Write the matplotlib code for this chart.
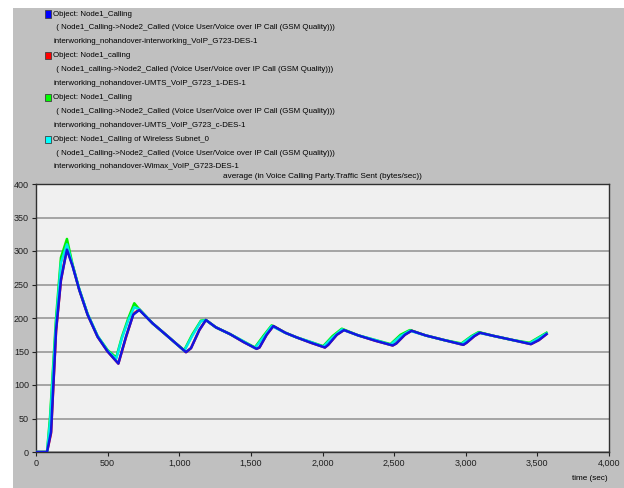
"""Voice calling party traffic sent, four scenarios (OPNET style)."""

import matplotlib

matplotlib.use("Agg", force=True)
import matplotlib.pyplot as plt
from matplotlib.patches import Rectangle
from matplotlib.ticker import FuncFormatter

# time (sec) and average traffic sent (bytes/sec)
time_blue = [0, 77, 105, 140, 174, 216, 256, 302, 360, 430,
             500, 575, 628, 679, 721, 814, 907, 977, 1047, 1082,
             1140, 1186, 1256, 1354, 1450, 1540, 1560, 1610, 1657, 1740,
             1820, 1920, 2017, 2040, 2100, 2150, 2250, 2370, 2490, 2515,
             2575, 2622, 2720, 2850, 2983, 3005, 3060, 3099, 3200, 3330,
             3455, 3510, 3564]
blue = [0, 0, 30, 182, 257, 302, 277, 242, 205, 172,
        150, 132, 172, 205, 212, 192, 175, 162, 149, 155,
        182, 197, 186, 176, 164, 154, 156, 175, 188, 178,
        171, 163, 156, 160, 175, 182, 174, 166, 159, 162,
        175, 181, 174, 167, 160, 163, 173, 178, 173, 167,
        161, 167, 176]
red = [0, 0, 28, 180, 256, 304, 278, 242, 205, 172,
       150, 132, 171, 206, 213, 192, 175, 162, 149, 155,
       182, 197, 186, 176, 164, 154, 156, 175, 188, 178,
       171, 163, 156, 160, 175, 182, 174, 166, 159, 162,
       175, 181, 174, 167, 160, 163, 173, 178, 173, 167,
       161, 167, 176]

time_green = [0, 77, 98, 140, 174, 216, 256, 302, 360, 430,
              500, 560, 600, 645, 686, 721, 814, 907, 977, 1035,
              1090, 1151, 1186, 1256, 1354, 1450, 1528, 1590, 1645, 1740,
              1820, 1920, 2005, 2070, 2135, 2250, 2370, 2475, 2545, 2610,
              2720, 2850, 2970, 3040, 3090, 3200, 3330, 3445, 3564]
green = [0, 0, 52, 200, 290, 318, 279, 243, 206, 173,
         152, 141, 172, 200, 222, 213, 192, 175, 162, 152,
         175, 196, 197, 186, 176, 165, 156, 174, 189, 178,
         171, 164, 158, 173, 184, 174, 167, 161, 175, 182,
         174, 167, 162, 173, 179, 173, 167, 163, 178]
cyan = [0, 0, 45, 192, 282, 310, 278, 243, 206, 173,
        151, 139, 170, 197, 216, 213, 192, 175, 162, 151,
        173, 195, 197, 186, 176, 165, 155, 172, 188, 178,
        171, 164, 157, 171, 183, 174, 167, 160, 173, 181,
        174, 167, 161, 172, 178, 173, 167, 162, 177]

legend_entries = [
    ("#0000ff", "Object: Node1_Calling",
     " ( Node1_Calling->Node2_Called (Voice User/Voice over IP Call (GSM Quality)))",
     "interworking_nohandover-interworking_VoIP_G723-DES-1"),
    ("#ff0000", "Object: Node1_calling",
     " ( Node1_calling->Node2_Called (Voice User/Voice over IP Call (GSM Quality)))",
     "interworking_nohandover-UMTS_VoIP_G723_1-DES-1"),
    ("#00ff00", "Object: Node1_Calling",
     " ( Node1_Calling->Node2_Called (Voice User/Voice over IP Call (GSM Quality)))",
     "interworking_nohandover-UMTS_VoIP_G723_c-DES-1"),
    ("#00ffff", "Object: Node1_Calling of Wireless Subnet_0",
     " ( Node1_Calling->Node2_Called (Voice User/Voice over IP Call (GSM Quality)))",
     "interworking_nohandover-Wimax_VoIP_G723-DES-1"),
]

plt.rcParams["font.family"] = ["Liberation Sans", "DejaVu Sans"]

W, H = 624, 488
fig = plt.figure(figsize=(W / 100, H / 100), dpi=100, facecolor="white")
fig.patches.append(Rectangle((13 / W, 0), 1 - 13 / W, 1 - 8 / H, transform=fig.transFigure,
                             facecolor="#c0c0c0", edgecolor="none", zorder=-10))

# legend block at the top
small = 5.7
for i, (color, l1, l2, l3) in enumerate(legend_entries):
    y0 = 14 + i * 3 * 13.9
    fig.patches.append(Rectangle((45 / W, 1 - (y0 + 3.5) / H), 6 / W, 7 / H,
                                 transform=fig.transFigure, facecolor=color,
                                 edgecolor="#404040", linewidth=0.6))
    fig.text(53 / W, 1 - y0 / H, l1, fontsize=small, va="center", ha="left")
    fig.text(54 / W, 1 - (y0 + 13.9) / H, l2, fontsize=small, va="center", ha="left")
    fig.text(53 / W, 1 - (y0 + 27.8) / H, l3, fontsize=small, va="center", ha="left")

ax = fig.add_axes([36 / W, 1 - 452 / H, (609 - 36) / W, (452 - 184) / H])
ax.set_facecolor("#f0f0f0")
ax.plot(time_blue, red, color="#ff0000", lw=1.8, zorder=3)
ax.plot(time_green, green, color="#00f000", lw=1.8, zorder=4)
ax.plot(time_green, cyan, color="#00e8e8", lw=1.8, zorder=5)
ax.plot(time_blue, blue, color="#1414e0", lw=1.8, zorder=6)

ax.set_xlim(0, 4000)
ax.set_ylim(0, 400)
ax.set_xticks(range(0, 4001, 500))
ax.set_yticks(range(0, 401, 50))
ax.xaxis.set_major_formatter(FuncFormatter(lambda v, p: f"{int(v):,}"))
ax.tick_params(labelsize=6.5, length=3, width=0.8, colors="#202020", pad=2)
ax.grid(True, axis="y", color="#989898", linewidth=1.2)
ax.set_axisbelow(True)
for spine in ax.spines.values():
    spine.set_color("#303030")
    spine.set_linewidth(1.0)

fig.text(322 / W, 1 - 176 / H, "average (in Voice Calling Party.Traffic Sent (bytes/sec))",
         fontsize=5.9, ha="center", va="center")
fig.text(608 / W, 1 - 478 / H, "time (sec)", fontsize=5.9, ha="right", va="center")

fig.savefig("out.png", dpi=100, facecolor=fig.get_facecolor())
